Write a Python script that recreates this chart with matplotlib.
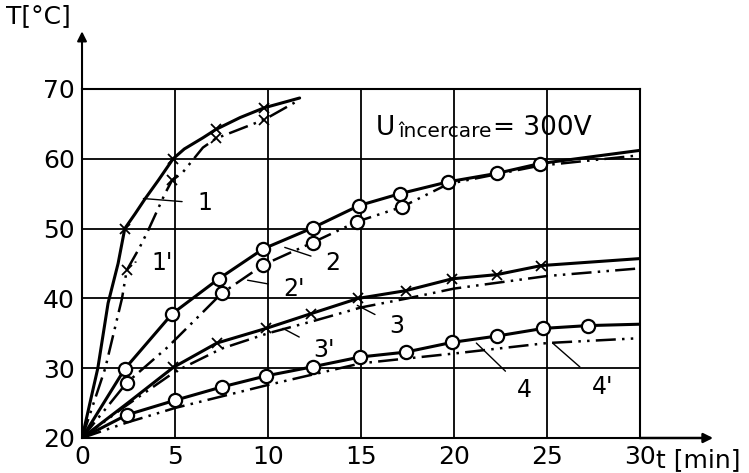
import numpy as np
from matplotlib import pyplot as plt

# values (t in min, T in degC)
# curve lines
t_1 = [0, 0.85, 1.4, 1.94, 2.3, 2.85, 3.4, 4.1, 4.9, 5.5, 6.5, 7.2, 8.5, 9.8, 11.7]
T_1 = [20, 30, 39.3, 45, 50, 52.1, 54.3, 56.9, 60, 61.4, 63, 64.2, 65.9, 67.3, 68.7]
t_1p = [0, 1.25, 2.15, 2.4, 3.1, 3.55, 4.46, 4.84, 5.4, 6.5, 7.2, 9.8, 11.6]
T_1p = [20, 30, 40, 44, 47.3, 49.7, 55, 56.9, 58, 61.6, 62.9, 65.6, 68.3]

t_2 = [0, 2.3, 4.85, 7.35, 9.75, 12.4, 14.9, 17.1, 19.7, 22.3, 24.6, 30]
T_2 = [20, 29.9, 37.8, 42.8, 47.1, 50.1, 53.3, 55.0, 56.7, 57.9, 59.3, 61.2]
t_2p = [0, 2.4, 4.6, 6.6, 7.5, 9.75, 12.4, 14.8, 17.2, 19.7, 24.6, 30]
T_2p = [20, 27.9, 33.0, 38.3, 40.7, 44.8, 48.0, 51.0, 53.1, 56.4, 59.0, 60.5]

t_3 = [0, 2.5, 4.9, 7.25, 9.9, 12.3, 14.85, 17.4, 19.9, 22.3, 24.7, 30]
T_3 = [20, 25.1, 30.1, 33.6, 35.7, 37.8, 40.0, 41.1, 42.8, 43.4, 44.7, 45.7]
t_3p = [0, 2.3, 5, 7.5, 10, 12.5, 15, 17.5, 20, 22.5, 25, 30]
T_3p = [20, 24.5, 29.5, 32.8, 35.0, 36.8, 38.7, 40.0, 41.4, 42.3, 43.2, 44.3]

t_4 = [0, 2.4, 5.0, 7.5, 9.9, 12.4, 14.95, 17.4, 19.9, 22.3, 24.8, 27.2, 30]
T_4 = [20, 23.3, 25.4, 27.3, 28.9, 30.2, 31.6, 32.3, 33.7, 34.6, 35.7, 36.1, 36.3]
t_4p = [0, 2.4, 5, 10, 15, 20, 25, 30]
T_4p = [20, 22.2, 24.3, 27.6, 30.7, 32.1, 33.6, 34.3]

# measured points (markers)
mx_1 = [2.3, 4.9, 7.2, 9.8]
my_1 = [50, 60, 64.2, 67.3]
mx_1p = [2.4, 4.84, 7.2, 9.8]
my_1p = [44, 56.9, 62.9, 65.6]
mo_2 = t_2[1:-1]
mv_2 = T_2[1:-1]
mo_2p = [2.4, 7.5, 9.75, 12.4, 14.8, 17.2]
mv_2p = [27.9, 40.7, 44.8, 48.0, 51.0, 53.1]
mx_3 = t_3[2:-1]
my_3 = T_3[2:-1]
mo_4 = t_4[1:-1]
mv_4 = T_4[1:-1]

# curve labels: (text, label pos, leader start)
labels = [
    ("1", (6.6, 53.6), (3.3, 54.3)),
    ("1'", (4.3, 45.0), (2.85, 45.2)),
    ("2", (13.5, 45.0), (10.9, 47.3)),
    ("2'", (11.4, 41.4), (8.9, 42.6)),
    ("3", (16.9, 36.1), (14.8, 39.0)),
    ("3'", (13.0, 32.6), (10.8, 35.7)),
    ("4", (23.8, 26.9), (21.2, 33.6)),
    ("4'", (28.0, 27.3), (25.3, 33.6)),
]

x_ticks = [0, 5, 10, 15, 20, 25, 30]
y_ticks = [20, 30, 40, 50, 60, 70]

plt.rcParams['font.family'] = ['DejaVu Sans']
fig = plt.figure(figsize=(7.49, 4.73), dpi=100)
ax = fig.add_axes([0.1095, 0.074, 0.745, 0.738])
ax.set_xlim(0, 30)
ax.set_ylim(20, 70)

for s in ax.spines.values():
    s.set_linewidth(1.5)
ax.set_xticks(x_ticks)
ax.set_yticks(y_ticks)
ax.tick_params(length=0, labelsize=18, pad=5)
ax.set_xticklabels([str(v) for v in x_ticks])
ax.set_yticklabels([str(v) for v in y_ticks])
ax.grid(True, color='black', lw=1.3)

solid = dict(color='black', lw=2.2, solid_capstyle='round', solid_joinstyle='round')
dashed = dict(color='black', lw=1.8, ls=(0, (8, 2.5, 1, 2.5, 1, 2.5)))
circ = dict(ls='none', marker='o', ms=9.5, mfc='white', mec='black', mew=1.6, zorder=5)
cross = dict(ls='none', marker='x', ms=7, mec='black', mew=1.3, zorder=5)

ax.plot(t_1, T_1, **solid)
ax.plot(t_1p, T_1p, **dashed)
ax.plot(t_2, T_2, **solid)
ax.plot(t_2p, T_2p, **dashed)
ax.plot(t_3, T_3, **solid)
ax.plot(t_3p, T_3p, **dashed)
ax.plot(t_4, T_4, **solid)
ax.plot(t_4p, T_4p, **dashed)

ax.plot(mx_1, my_1, **cross)
ax.plot(mx_1p, my_1p, **cross)
ax.plot(mo_2, mv_2, **circ)
ax.plot(mo_2p, mv_2p, **circ)
ax.plot(mx_3, my_3, **cross)
ax.plot(mo_4, mv_4, **circ)

for txt, (lx, ly), (sx, sy) in labels:
    ax.annotate(txt, xy=(sx, sy), xytext=(lx, ly), fontsize=17,
                ha='center', va='center',
                arrowprops=dict(arrowstyle='-', lw=1.0, color='black',
                                shrinkA=9, shrinkB=0))

# axis arrows
ax.annotate('', xy=(0, 1.165), xytext=(0, 1.0), xycoords='axes fraction',
            arrowprops=dict(arrowstyle='-|>', lw=1.5, color='black',
                            mutation_scale=14, shrinkA=0, shrinkB=0))
ax.annotate('', xy=(1.131, 0), xytext=(1.0, 0), xycoords='axes fraction',
            arrowprops=dict(arrowstyle='-|>', lw=1.8, color='black',
                            mutation_scale=14, shrinkA=0, shrinkB=0))

fig.text(6 / 749, 1 - 4 / 473, "T[°C]", fontsize=18, ha='left', va='top')
fig.text(656 / 749, 1 - 467 / 473, "t [min]", fontsize=18, ha='left', va='baseline')

u = ax.text(0.527, 0.868, "U", transform=ax.transAxes, fontsize=19,
            ha='left', va='baseline')
sub = ax.annotate("încercare", xy=(1, 0), xycoords=u, xytext=(2, 0),
                  textcoords='offset points', fontsize=14.5, va='bottom')
ax.annotate("= 300V", xy=(1, 0), xycoords=sub, xytext=(1, 0),
            textcoords='offset points', fontsize=19, va='bottom')

fig.savefig('out.png', dpi=100)
